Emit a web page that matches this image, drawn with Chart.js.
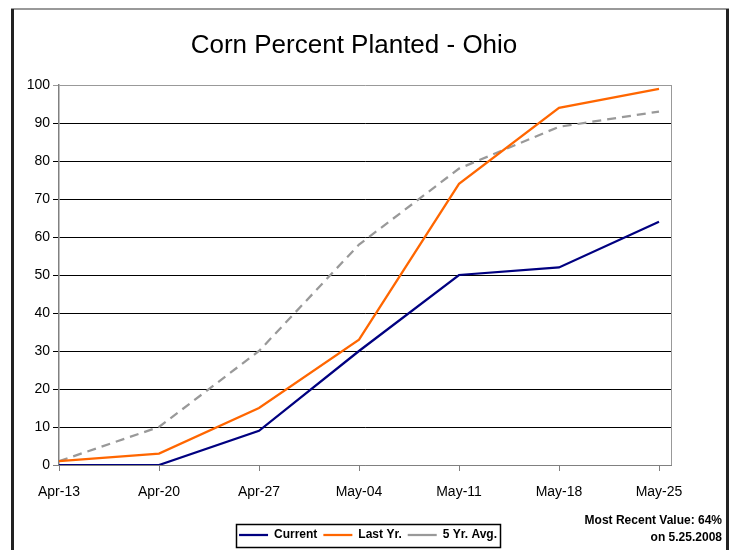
<!DOCTYPE html>
<html>
<head>
<meta charset="utf-8">
<script src="https://cdn.jsdelivr.net/npm/chart.js@4"></script>
<style>
  html, body { margin: 0; padding: 0; background: #fff; }
  #wrap { width: 732px; height: 550px; }
</style>
</head>
<body>
<div id="wrap"><canvas id="graph" width="732" height="550"></canvas></div>
<script>
const chartTitle = 'Corn Percent Planted - Ohio';
const weekLabels = ['Apr-13', 'Apr-20', 'Apr-27', 'May-04', 'May-11', 'May-18', 'May-25'];
const current = [0, 0, 9, 30, 50, 52, 64];
const lastYear = [1, 3, 15, 33, 74, 94, 99];
const fiveYrAvg = [1, 10, 30, 58, 78, 89, 93];
const recentDate = '5.25.2008';

const FONT = "'Liberation Sans', Arial, sans-serif";

const toPoints = arr => arr.map((v, i) => ({ x: i, y: v }));

// page frame, title, plot border, legend box and the "most recent" note
const extras = {
    id: 'extras',
    beforeDraw(chart) {
        const ctx = chart.ctx;
        ctx.save();
        ctx.fillStyle = '#fff';
        ctx.fillRect(0, 0, chart.width, chart.height);
        ctx.fillStyle = '#999';
        ctx.fillRect(11, 8, 718, 2);
        ctx.fillStyle = '#222';
        ctx.fillRect(11, 9, 3, chart.height);
        ctx.fillRect(726, 9, 3, chart.height);

        ctx.fillStyle = '#000';
        ctx.font = '26px ' + FONT;
        ctx.textAlign = 'center';
        ctx.textBaseline = 'middle';
        ctx.fillText(chartTitle, 354, 46);
        ctx.restore();
    },
    beforeDatasetsDraw(chart) {
        const { ctx, chartArea: a } = chart;
        ctx.save();
        ctx.strokeStyle = '#999';
        ctx.lineWidth = 1;
        ctx.beginPath();
        ctx.moveTo(a.right + 0.5, a.top);
        ctx.lineTo(a.right + 0.5, a.bottom);
        ctx.stroke();
        ctx.restore();
    },
    afterDraw(chart) {
        const ctx = chart.ctx;
        const boxes = chart.legend.legendHitBoxes;
        ctx.save();
        if (boxes && boxes.length) {
            const l = Math.min(...boxes.map(b => b.left)) - 3;
            const r = Math.max(...boxes.map(b => b.left + b.width)) + 3;
            const mid = (Math.min(...boxes.map(b => b.top)) + Math.max(...boxes.map(b => b.top + b.height))) / 2;
            ctx.strokeStyle = '#000';
            ctx.lineWidth = 1.5;
            ctx.strokeRect(Math.round(l) + 0.5, Math.round(mid - 11.5) + 0.5, Math.round(r - l), 23);
        }
        ctx.fillStyle = '#000';
        ctx.font = 'bold 12px ' + FONT;
        ctx.textAlign = 'right';
        ctx.textBaseline = 'middle';
        ctx.fillText('Most Recent Value: ' + current[current.length - 1] + '%', 722, 521);
        ctx.fillText('on ' + recentDate, 722, 538);
        ctx.restore();
    }
};

const data = {
    datasets: [{
        label: 'Current',
        data: toPoints(current),
        borderColor: '#000080',
        backgroundColor: '#000080',
        borderWidth: 2.25
    }, {
        label: 'Last Yr.',
        data: toPoints(lastYear),
        borderColor: '#ff6600',
        backgroundColor: '#ff6600',
        borderWidth: 2.25
    }, {
        label: '5 Yr. Avg.',
        data: toPoints(fiveYrAvg),
        borderColor: '#999999',
        backgroundColor: '#999999',
        borderWidth: 2.25,
        borderDash: [9, 6]
    }]
};

const config = {
    type: 'line',
    data: data,
    plugins: [extras],
    options: {
        responsive: false,
        animation: false,
        layout: {
            padding: { left: 4, right: 0, top: 85, bottom: 0 }
        },
        elements: {
            point: { radius: 0, hoverRadius: 0 },
            line: { tension: 0, fill: false }
        },
        plugins: {
            tooltip: { enabled: false },
            title: { display: false },
            legend: {
                position: 'bottom',
                maxHeight: 27,
                labels: {
                    color: '#000',
                    font: { family: FONT, size: 12, weight: 'bold' },
                    usePointStyle: true,
                    pointStyle: 'line',
                    pointStyleWidth: 29,
                    boxHeight: 12,
                    padding: 6
                }
            }
        },
        scales: {
            x: {
                type: 'linear',
                min: 0,
                max: 6.12,
                afterBuildTicks: s => { s.ticks = weekLabels.map((_, i) => ({ value: i })); },
                afterFit: s => { s.height = 58; },
                ticks: {
                    callback: v => weekLabels[v],
                    color: '#000',
                    font: { family: FONT, size: 14 },
                    padding: 13,
                    maxRotation: 0,
                    autoSkip: false
                },
                grid: { drawOnChartArea: false, tickLength: 6, color: '#808080' },
                border: { color: '#808080', width: 1 }
            },
            y: {
                min: 0,
                max: 100,
                afterFit: s => { s.width = 55; },
                ticks: {
                    stepSize: 10,
                    color: '#000',
                    font: { family: FONT, size: 14 },
                    padding: 3
                },
                grid: {
                    tickLength: 6,
                    lineWidth: 1,
                    color: c => c.tick && c.tick.value === 100 ? '#999' : (c.tick && c.tick.value === 0 ? '#808080' : '#000')
                },
                border: { color: '#808080', width: 1.5 }
            },
            // empty strip to the right of the plot, keeps the legend centred under the whole frame
            side: {
                position: 'right',
                min: 0,
                max: 100,
                afterFit: s => { s.width = 61; },
                ticks: { display: false },
                grid: { display: false, drawTicks: false },
                border: { display: false }
            }
        }
    }
};

const graph = new Chart(document.getElementById('graph'), config);
</script>
</body>
</html>
